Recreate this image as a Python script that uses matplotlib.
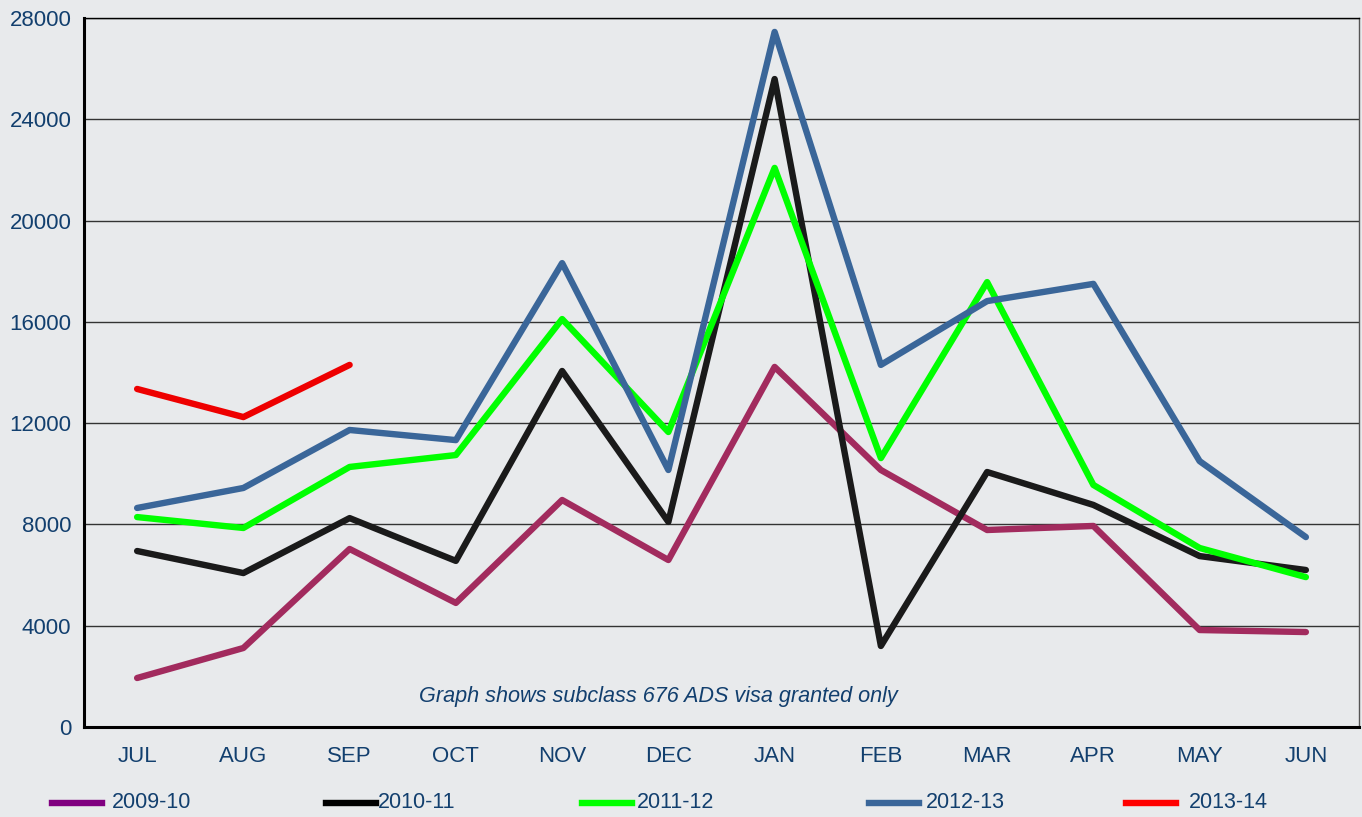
import matplotlib
matplotlib.use('Agg')
import matplotlib.pyplot as plt
from matplotlib.lines import Line2D

plt.rcParams['font.family'] = ['Liberation Sans', 'DejaVu Sans']
plt.rcParams['font.size'] = 16

months = ['JUL', 'AUG', 'SEP', 'OCT', 'NOV', 'DEC', 'JAN', 'FEB', 'MAR', 'APR', 'MAY', 'JUN']

v_2009_10 = [1935, 3120, 7030, 4900, 8965, 6595, 14220, 10150, 7780, 7940, 3830, 3750]
v_2010_11 = [6950, 6080, 8250, 6560, 14060, 8100, 25590, 3200, 10070, 8770, 6750, 6200]
v_2011_12 = [8290, 7860, 10270, 10740, 16110, 11650, 22080, 10620, 17570, 9560, 7070, 5920]
v_2012_13 = [8650, 9440, 11730, 11330, 18320, 10150, 27450, 14300, 16820, 17500, 10500, 7500]
v_2013_14 = [13350, 12240, 14300]

series = [
    ('2009-10', v_2009_10, '#A22B5E', '#800080'),
    ('2010-11', v_2010_11, '#1A1A1A', '#000000'),
    ('2011-12', v_2011_12, '#00FF00', '#00FF00'),
    ('2012-13', v_2012_13, '#3A6699', '#3A6699'),
    ('2013-14', v_2013_14, '#EE0000', '#FF0000'),
]

bg = '#E8EAEC'
txt = '#123F6E'

fig = plt.figure(figsize=(13.62, 8.17), dpi=100, facecolor=bg)
ax = fig.add_axes([84/1362, 90/817, 1275/1362, 709/817], facecolor=bg)

for name, vals, col, _ in series:
    ax.plot(range(len(vals)), vals, color=col, lw=4.6, solid_capstyle='round',
            solid_joinstyle='round', zorder=3)

ax.set_xlim(-0.5, 11.5)
ax.set_ylim(0, 28000)
ax.set_yticks(range(0, 28001, 4000))
ax.set_xticks(range(12))
ax.set_xticklabels(months)
ax.tick_params(length=0, colors=txt, labelsize=16)
ax.tick_params(axis='y', pad=9)
ax.tick_params(axis='x', pad=14)
ax.yaxis.grid(True, color='#333333', lw=1.0)
ax.set_axisbelow(True)

for s in ['left', 'bottom']:
    ax.spines[s].set_linewidth(2.2)
    ax.spines[s].set_color('black')
ax.spines['top'].set_linewidth(1.0)
ax.spines['top'].set_color('black')
ax.spines['right'].set_linewidth(1.0)
ax.spines['right'].set_color('#555555')

ax.text(4.91, 1200, 'Graph shows subclass 676 ADS visa granted only', ha='center',
        va='center', style='italic', fontsize=15.6, color=txt)

# legend row along the bottom edge
handle_x = [52, 326, 582, 869, 1126]
text_x = [112, 378, 637, 926, 1189]
y = 1 - 803/817
for (name, _, _, lcol), hx, tx in zip(series, handle_x, text_x):
    fig.add_artist(Line2D([hx/1362, (hx + 50)/1362], [y, y], color=lcol, lw=4.6,
                          transform=fig.transFigure))
    fig.text(tx/1362, y, name, ha='left', va='center', fontsize=15.5, color=txt)

fig.savefig('out.png', dpi=100, facecolor=bg)
